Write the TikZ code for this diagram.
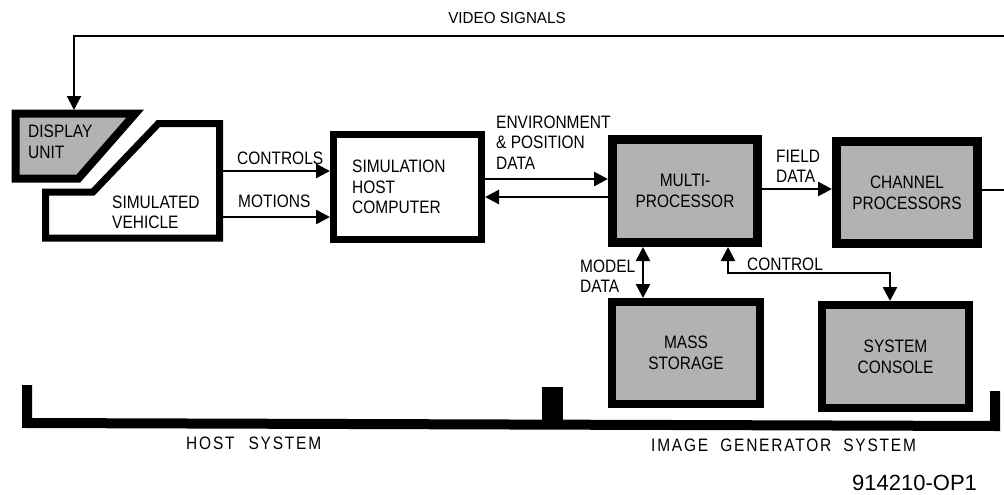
\documentclass[tikz,border=0pt]{standalone}
\usepackage{fontspec}
\setmainfont[FakeStretch=0.86]{Liberation Sans}
\newfontfamily\spacedfont[FakeStretch=0.86, LetterSpace=10]{Liberation Sans}
\newfontfamily\narrowfont[FakeStretch=0.95]{Liberation Sans}
\newfontfamily\idfont{Liberation Sans}
\usetikzlibrary{arrows.meta}
\begin{document}
\begin{tikzpicture}[x=1pt,y=-1pt,
  lbl/.style={inner sep=0pt, font=\fontsize{18}{20.5}\selectfont, align=left},
  wbox/.style={draw, line width=7pt, fill=white, inner sep=0pt},
  gbox/.style={draw, line width=9pt, fill=black!30, inner sep=0pt, align=center, font=\fontsize{18}{21}\selectfont},
  conn/.style={line width=2.5pt, -{Triangle[length=14pt,width=14pt]}},
  dbl/.style={line width=2.5pt, {Triangle[length=14pt,width=14pt]}-{Triangle[length=14pt,width=14pt]}},
  shapeline/.style={line width=7pt, line join=miter, miter limit=20}
]
\useasboundingbox (0,0) rectangle (1004,495);

% display unit
\filldraw[shapeline, line width=8pt, fill=black!30] (15.5,113.5) -- (135.3,113.5) -- (78.4,178.5) -- (15.5,178.5) -- cycle;
\coordinate (dispTop) at (74,110);
\node[lbl, anchor=west] (dtxt) at (28,142) {DISPLAY\\UNIT};

% simulated vehicle
\draw[shapeline] (158.4,123.5) -- (219.5,123.5) -- (219.5,238) -- (45.5,238) -- (45.5,192) -- (93,192) -- cycle;
\coordinate (vehC) at (223,171);
\coordinate (vehM) at (223,217);
\node[lbl, anchor=west] (vtxt) at (112,212.5) {SIMULATED\\VEHICLE};

% boxes
\node[wbox, minimum width=148pt, minimum height=105pt] (host) at (407.5,187) {};
\node[lbl, anchor=west] (htxt) at (352,187) {SIMULATION\\HOST\\COMPUTER};
\node[gbox, minimum width=145pt, minimum height=103pt] (mp) at (685,191) {MULTI-\\PROCESSOR};
\node[gbox, minimum width=141pt, minimum height=102pt] (ch) at (907,192.5) {CHANNEL\\PROCESSORS};
\node[gbox, line width=8pt, minimum width=148pt, minimum height=102pt] (ms) at (686,353) {MASS\\STORAGE};
\node[gbox, line width=8pt, minimum width=147pt, minimum height=103pt] (sc) at (895.5,356.5) {SYSTEM\\CONSOLE};

% video signals
\coordinate (vr) at (1004,36);
\draw[conn, line width=2pt] (vr) -| (dispTop);
\node[inner sep=0pt, font=\narrowfont\fontsize{16}{16}\selectfont] (vs) at (507,18) {VIDEO SIGNALS};
\coordinate (cr) at (1004,190);
\draw[line width=2.5pt] (ch.east |- cr) -- (cr);

% controls / motions
\draw[conn] (vehC) -- (host.west |- vehC);
\draw[conn] (vehM) -- (host.west |- vehM);
\node[lbl, anchor=west] (ctl) at (237,158) {CONTROLS};
\node[lbl, anchor=west] (mot) at (238,201) {MOTIONS};

% environment data
\coordinate (e1) at (540,179);
\coordinate (e2) at (540,197);
\draw[conn] (host.east |- e1) -- (mp.west |- e1);
\draw[conn] (mp.west |- e2) -- (host.east |- e2);
\node[lbl, anchor=west] (env) at (496,142.5) {ENVIRONMENT\\\&~POSITION\\DATA};

% field data
\coordinate (f1) at (800,189);
\draw[conn] (mp.east |- f1) -- (ch.west |- f1);
\node[lbl, anchor=west] (fd) at (776,166.5) {FIELD\\DATA};

% model data
\coordinate (md) at (643,270);
\draw[dbl] (mp.south -| md) -- (ms.north -| md);
\node[lbl, anchor=west] (mdl) at (580,276) {MODEL\\DATA};

% control
\coordinate (c1) at (728,273);
\coordinate (c2) at (890,273);
\draw[dbl] (mp.south -| c1) -- (c1) -- (c2) -- (sc.north -| c2);
\node[lbl, anchor=west] (ctrl) at (747,264) {CONTROL};

% bracket
\draw[line width=10pt, line join=miter] (27,385) -- (27,423) -- (995,426) -- (995,391);
\fill (542,387) rectangle (563,425);
\node[lbl, anchor=west, font=\spacedfont\fontsize{18}{20}\selectfont] (hs) at (186,443) {HOST\hspace{14pt}SYSTEM};
\node[lbl, anchor=west, font=\spacedfont\fontsize{18}{20}\selectfont] (igs) at (651,445) {IMAGE\hspace{12pt}GENERATOR\hspace{12pt}SYSTEM};
\node[inner sep=0pt, anchor=west, font=\idfont\fontsize{22}{22}\selectfont] (id) at (852,483) {914210-OP1};
\end{tikzpicture}
\end{document}
